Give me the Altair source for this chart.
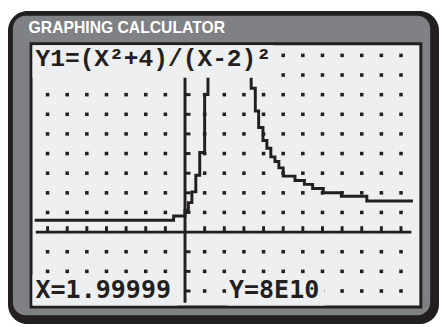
import altair as alt
import pandas as pd

# ---- values (data units of the calculator window) ----
title_text = "GRAPHING CALCULATOR"
func_text = "Y1=(X²+4)/(X-2)²"
xval_text = "X=1.99999"
yval_text = "Y=8E10"

x_domain = [-7.765, 11.935]
y_domain = [-3.735, 9.515]

grid_x = [-7, -6, -5, -4, -3, -2, -1, 1, 2, 3, 4, 5, 6, 7, 8, 9, 10, 11]
grid_y = [-3, -2, -1, 1, 2, 3, 4, 5, 6, 7, 8, 9]

axis_x_ends = [-7.6, 11.53]
axis_y_ends = [-3.6, 9.5]

# left branch (staircase as drawn on the screen)
left_x = [-7.58, -0.58, -0.58, 0.0, 0.0, 0.17, 0.17, 0.35, 0.35, 0.55, 0.55,
          0.75, 0.75, 1.0, 1.0, 1.17, 1.17]
left_y = [0.6, 0.6, 0.82, 0.82, 1.12, 1.12, 1.5, 1.5, 2.05, 2.05, 2.9,
          2.9, 4.05, 4.05, 7.0, 7.0, 8.0]

# right branch
right_x = [3.37, 3.37, 3.58, 3.58, 3.75, 3.75, 3.97, 3.97, 4.17, 4.17, 4.37,
           4.37, 4.58, 4.58, 4.78, 4.78, 5.0, 5.0, 5.6, 5.6, 6.08, 6.08,
           6.5, 6.5, 7.04, 7.04, 7.96, 7.96, 9.26, 9.26, 11.53]
right_y = [8.0, 7.33, 7.33, 6.17, 6.17, 5.33, 5.33, 4.67, 4.67, 4.27, 4.27,
           3.83, 3.83, 3.6, 3.6, 3.27, 3.27, 2.85, 2.85, 2.63, 2.63, 2.43,
           2.43, 2.22, 2.22, 2.0, 2.0, 1.83, 1.83, 1.58, 1.58]

# ---- tables ----
dots = pd.DataFrame([(gx, gy) for gx in grid_x for gy in grid_y], columns=["x", "y"])
xticks = pd.DataFrame({"x": grid_x, "y": 0.0, "y2": 0.3})
yticks = pd.DataFrame({"y": grid_y, "x": 0.0, "x2": 0.28})
xaxis = pd.DataFrame({"x": [axis_x_ends[0]], "x2": [axis_x_ends[1]], "y": [0.0]})
yaxis = pd.DataFrame({"y": [axis_y_ends[0]], "y2": [axis_y_ends[1]], "x": [0.0]})
curve = pd.concat([
    pd.DataFrame({"x": left_x, "y": left_y, "b": "L", "i": range(len(left_x))}),
    pd.DataFrame({"x": right_x, "y": right_y, "b": "R", "i": range(len(right_x))}),
])
one = pd.DataFrame({"a": [0]})

INK = "#231f20"
GREY = "#808184"
SCREEN = "#eeeff0"

xs = alt.Scale(domain=x_domain, nice=False, zero=False)
ys = alt.Scale(domain=y_domain, nice=False, zero=False)


def box(x, x2, y, y2, color, r=0):
    return alt.Chart(one).mark_rect(color=color, cornerRadius=r).encode(
        x=alt.value(x), x2=alt.value(x2), y=alt.value(y), y2=alt.value(y2))


outer = box(-25, 414, -35, 284, INK, 20)
band = box(-20, 405, -30, 275, GREY, 13)
border = box(-3, 397, -3, 268, INK)
screen = box(0, 394, 0, 265, SCREEN)

title = alt.Chart(one).mark_text(
    text=title_text, align="left", baseline="alphabetic", font="Liberation Sans",
    fontSize=16, fontWeight="bold", color="white"
).encode(x=alt.value(-4), y=alt.value(-12))

dot_layer = alt.Chart(dots).mark_square(size=13, color=INK, opacity=1).encode(
    x=alt.X("x:Q", scale=xs, axis=None), y=alt.Y("y:Q", scale=ys, axis=None))

xaxis_layer = alt.Chart(xaxis).mark_rule(color=INK, strokeWidth=3).encode(
    x=alt.X("x:Q", scale=xs, axis=None), x2="x2:Q", y=alt.Y("y:Q", scale=ys, axis=None))
yaxis_layer = alt.Chart(yaxis).mark_rule(color=INK, strokeWidth=3).encode(
    y=alt.Y("y:Q", scale=ys, axis=None), y2="y2:Q", x=alt.X("x:Q", scale=xs, axis=None))
xtick_layer = alt.Chart(xticks).mark_rule(color=INK, strokeWidth=3).encode(
    x=alt.X("x:Q", scale=xs, axis=None), y=alt.Y("y:Q", scale=ys, axis=None), y2="y2:Q")
ytick_layer = alt.Chart(yticks).mark_rule(color=INK, strokeWidth=3).encode(
    y=alt.Y("y:Q", scale=ys, axis=None), x=alt.X("x:Q", scale=xs, axis=None), x2="x2:Q")

curve_layer = alt.Chart(curve).mark_line(
    color=INK, strokeWidth=3, strokeJoin="miter", strokeCap="square"
).encode(
    x=alt.X("x:Q", scale=xs, axis=None), y=alt.Y("y:Q", scale=ys, axis=None),
    detail="b:N", order="i:Q")

mask_top = box(0, 245, 0, 33, SCREEN)
mask_bl = box(0, 147, 234, 265, SCREEN)
mask_br = box(199, 297, 234, 265, SCREEN)

func_label = alt.Chart(one).mark_text(
    text=func_text, align="left", baseline="alphabetic", font="Liberation Mono",
    fontSize=25, fontWeight="bold", color=INK
).encode(x=alt.value(3), y=alt.value(21))
xval_label = alt.Chart(one).mark_text(
    text=xval_text, align="left", baseline="alphabetic", font="DejaVu Sans Mono",
    fontSize=25.5, fontWeight="bold", color=INK
).encode(x=alt.value(3), y=alt.value(257))
yval_label = alt.Chart(one).mark_text(
    text=yval_text, align="left", baseline="alphabetic", font="DejaVu Sans Mono",
    fontSize=25.5, fontWeight="bold", color=INK
).encode(x=alt.value(200), y=alt.value(257))

chart = alt.layer(
    outer, band, border, screen, title,
    dot_layer, xaxis_layer, yaxis_layer, xtick_layer, ytick_layer, curve_layer,
    mask_top, mask_bl, mask_br, func_label, xval_label, yval_label
).properties(
    width=394, height=265,
    padding={"left": 25, "top": 35, "right": 20, "bottom": 19},
    autosize=alt.AutoSizeParams(type="none"),
    background="white",
).configure_view(stroke=None)

chart.save("out.html", embed_options={"renderer": "svg", "actions": False})
